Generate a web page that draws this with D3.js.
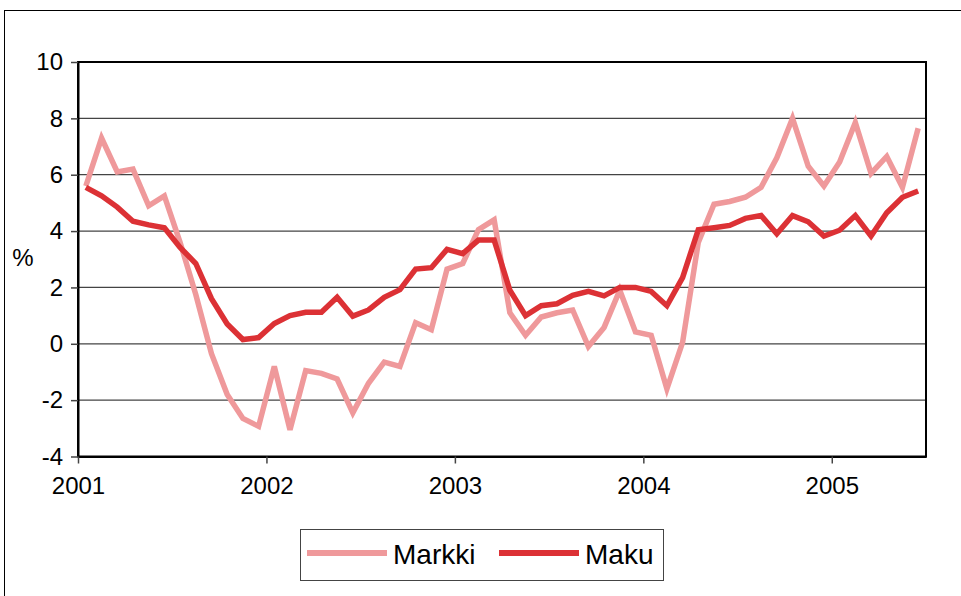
<!DOCTYPE html>
<html>
<head>
<meta charset="utf-8">
<script src="https://d3js.org/d3.v7.min.js"></script>
<style>
  body { margin: 0; background: #fff; }
  svg { display: block; font-family: "Liberation Sans", Arial, sans-serif; }
</style>
</head>
<body>
<svg width="961" height="596"></svg>
<script>
// monthly, Jan 2001 .. Jun 2005
var years = ['2001', '2002', '2003', '2004', '2005'];
var yTicks = [-4, -2, 0, 2, 4, 6, 8, 10];

var markki = [5.6, 7.3, 6.1, 6.2, 4.9, 5.25, 3.6, 1.75, -0.35, -1.8, -2.65, -2.93,
              -0.8, -3.05, -0.95, -1.05, -1.25, -2.45, -1.4, -0.65, -0.8, 0.75, 0.5, 2.65,
              2.85, 4.05, 4.4, 1.1, 0.3, 0.95, 1.1, 1.2, -0.1, 0.58, 1.9, 0.42,
              0.3, -1.6, 0.05, 3.6, 4.95, 5.05, 5.2, 5.55, 6.6, 8.0, 6.3, 5.6,
              6.45, 7.85, 6.05, 6.65, 5.55, 7.65];
var maku = [5.55, 5.25, 4.85, 4.35, 4.22, 4.12, 3.42, 2.85, 1.6, 0.7, 0.15, 0.22,
            0.72, 1.0, 1.12, 1.12, 1.65, 0.98, 1.2, 1.65, 1.92, 2.65, 2.7, 3.35,
            3.2, 3.68, 3.68, 1.9, 1.0, 1.35, 1.42, 1.72, 1.86, 1.7, 2.0, 2.0,
            1.86, 1.35, 2.35, 4.05, 4.12, 4.2, 4.45, 4.55, 3.9, 4.55, 4.33, 3.82,
            4.03, 4.55, 3.82, 4.65, 5.2, 5.42];

var series = [
  { name: 'Markki', values: markki, color: '#ef999b' },
  { name: 'Maku', values: maku, color: '#dc3135' }
];

var svg = d3.select('svg');
var L = 78, R = 926, T = 62, B = 456.5;

// outer frame
svg.append('rect')
  .attr('x', 4.5).attr('y', 10.5)
  .attr('width', 1000).attr('height', 1000)
  .attr('fill', 'none').attr('stroke', '#000').attr('stroke-width', 1);

var x = d3.scaleLinear().domain([0, markki.length]).range([L, R]);
var y = d3.scaleLinear().domain([-4, 10]).range([B, T]);

// grid
svg.append('g').selectAll('line').data(yTicks).enter()
  .append('line')
  .attr('x1', L).attr('x2', R)
  .attr('y1', function (d) { return y(d); })
  .attr('y2', function (d) { return y(d); })
  .attr('stroke', '#444').attr('stroke-width', 1.2);

// series
var line = d3.line()
  .x(function (d, i) { return x(i + 0.5); })
  .y(function (d) { return y(d); });

svg.append('g').selectAll('path').data(series).enter()
  .append('path')
  .attr('d', function (s) { return line(s.values); })
  .attr('fill', 'none')
  .attr('stroke', function (s) { return s.color; })
  .attr('stroke-width', 5.5)
  .attr('stroke-linejoin', 'miter');

// plot border
svg.append('rect')
  .attr('x', L).attr('y', T)
  .attr('width', R - L).attr('height', B - T)
  .attr('fill', 'none').attr('stroke', '#000').attr('stroke-width', 2);

// axes
var yAxis = d3.axisLeft(y).tickValues(yTicks)
  .tickFormat(function (d) { return String(d); })
  .tickSize(7).tickSizeOuter(0).tickPadding(8);
var gy = svg.append('g').attr('transform', 'translate(' + L + ',0)').call(yAxis);

var xAxis = d3.axisBottom(x)
  .tickValues(years.map(function (d, i) { return i * 12; }))
  .tickFormat(function (d) { return years[d / 12]; })
  .tickSize(7).tickSizeOuter(0).tickPadding(13);
var gx = svg.append('g').attr('transform', 'translate(0,' + B + ')').call(xAxis);

[gx, gy].forEach(function (g) {
  g.select('.domain').attr('stroke', '#000').attr('stroke-width', 2);
  g.selectAll('.tick line').attr('stroke', '#444').attr('stroke-width', 1.5);
  g.selectAll('.tick text')
    .attr('fill', '#000')
    .style('font-size', '24px')
    .style('font-family', '"Liberation Sans", Arial, sans-serif');
});

svg.append('text')
  .attr('x', 23).attr('y', 266)
  .attr('text-anchor', 'middle')
  .style('font-size', '24px')
  .text('%');

// legend
var lg = svg.append('g');
lg.append('rect')
  .attr('x', 300.5).attr('y', 529.5)
  .attr('width', 363).attr('height', 51)
  .attr('fill', '#fff').attr('stroke', '#444').attr('stroke-width', 1);

var legendX = [307, 499];
series.forEach(function (s, i) {
  lg.append('line')
    .attr('x1', legendX[i]).attr('x2', legendX[i] + 80)
    .attr('y1', 553).attr('y2', 553)
    .attr('stroke', s.color).attr('stroke-width', 6);
  lg.append('text')
    .attr('x', legendX[i] + 86).attr('y', 564)
    .style('font-size', '28px')
    .text(s.name);
});
</script>
</body>
</html>
